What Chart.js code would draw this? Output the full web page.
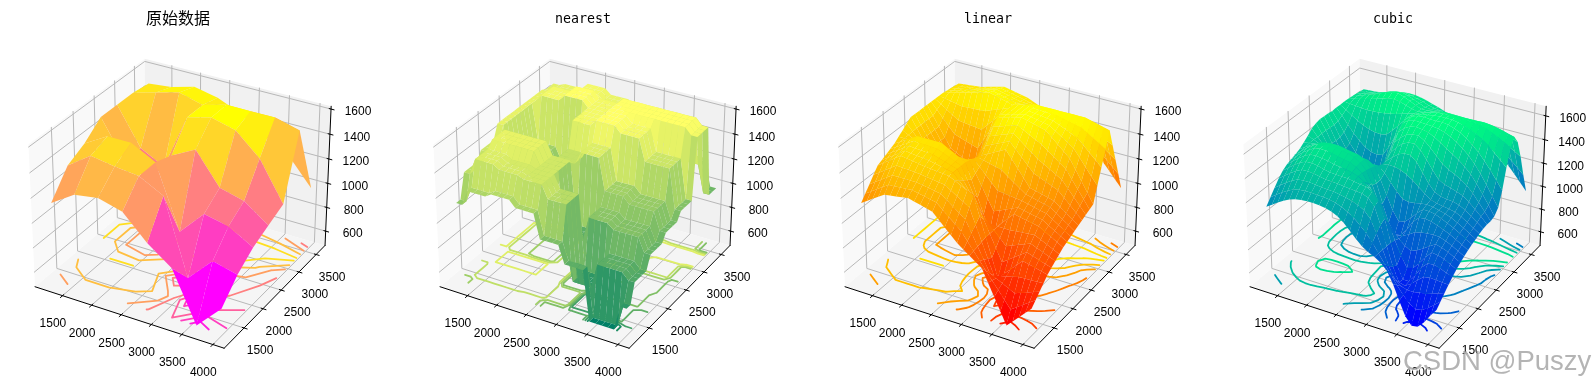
<!DOCTYPE html>
<html>
<head>
<meta charset="utf-8">
<script src="https://cdn.jsdelivr.net/npm/chart.js@4/dist/chart.umd.min.js"></script>
<style>
html,body{margin:0;padding:0;background:#fff;overflow:hidden}
#wrap{position:relative;width:1594px;height:389px;overflow:hidden}
.panel{position:absolute;top:0;width:379px;height:389px}
#mark{position:absolute;left:1403px;top:345px;font:27.5px "Liberation Sans";color:rgba(140,140,140,.65);text-shadow:1px 1px 1px rgba(255,255,255,.9);white-space:nowrap}
</style>
</head>
<body>
<div id="wrap"><div id="mark">CSDN @Puszy</div></div>
<script>
const xTicks = [1500, 2000, 2500, 3000, 3500, 4000];
const yTicks = [1500, 2000, 2500, 3000, 3500];
const zTicks = [600, 800, 1000, 1200, 1400, 1600];
const contourLevels = [600, 750, 900, 1050, 1200, 1350, 1500];

const rawX = [1200, 1600, 2000, 2400, 2800, 3200, 3600, 4000];
const rawY = [1200, 1600, 2000, 2400, 2800, 3200, 3600];
const rawZ = [
  [1130, 1250, 1280, 1230, 1040, 900, 500, 700],
  [1320, 1450, 1420, 1400, 1300, 700, 900, 850],
  [1390, 1500, 1500, 1400, 900, 1100, 1060, 950],
  [1500, 1200, 1100, 1350, 1450, 1200, 1150, 1010],
  [1500, 1200, 1100, 1550, 1600, 1550, 1380, 1070],
  [1500, 1550, 1600, 1550, 1600, 1600, 1600, 1550],
  [1480, 1500, 1550, 1510, 1430, 1300, 1200, 980]
];

const fineX = [1200,1300,1400,1500,1600,1700,1800,1900,2000,2100,2200,2300,2400,2500,2600,2700,2800,2900,3000,3100,3200,3300,3400,3500,3600,3700,3800,3900,4000];
const fineY = [1200,1300,1400,1500,1600,1700,1800,1900,2000,2100,2200,2300,2400,2500,2600,2700,2800,2900,3000,3100,3200,3300,3400,3500,3600];

const n0 = [1130,1130,1250,1250,1250,1250,1280,1280,1280,1280,1230,1230,1230,1230,1040,1040,1040,1040,900,900,900,900,500,500,500,500,500,700,700];
const n1 = [1320,1320,1450,1450,1450,1450,1420,1420,1420,1420,1400,1400,1400,1400,1300,1300,1300,1300,700,700,700,700,900,900,900,900,900,850,850];
const n2 = [1390,1390,1500,1500,1500,1500,1500,1500,1500,1500,1400,1400,1400,1400,900,900,900,900,1100,1100,1100,1100,1060,1060,1060,1060,1060,950,950];
const n3 = [1500,1500,1200,1200,1200,1200,1100,1100,1100,1100,1350,1350,1350,1350,1450,1450,1450,1450,1200,1200,1200,1200,1150,1150,1150,1150,1150,1010,1010];
const n4 = [1500,1500,1200,1200,1200,1200,1100,1100,1100,1100,1550,1550,1550,1550,1600,1600,1600,1600,1550,1550,1550,1550,1380,1380,1380,1380,1380,1070,1070];
const n5 = [1500,1500,1550,1550,1550,1550,1600,1600,1600,1600,1550,1550,1550,1550,1600,1600,1600,1600,1600,1600,1600,1600,1600,1600,1600,1600,1600,1550,1550];
const n6 = [1480,1480,1500,1500,1500,1500,1550,1550,1550,1550,1510,1510,1510,1510,1430,1430,1430,1430,1300,1300,1300,1300,1200,1200,1200,1200,1200,980,980];
const nearestZ = [n0,n0,n1,n1,n1,n1,n2,n2,n2,n2,n3,n3,n3,n3,n4,n4,n4,n4,n5,n5,n5,n5,n6,n6,n6];

const linearZ = [
[1130,1160,1190,1220,1250,1258,1265,1273,1280,1268,1255,1243,1230,1183,1135,1088,1040,1005,970,935,900,800,700,600,500,550,600,650,700],
[1178,1208,1239,1270,1300,1304,1308,1311,1315,1305,1294,1284,1273,1231,1189,1147,1105,1041,978,914,850,788,725,663,600,634,669,703,738],
[1225,1256,1288,1319,1350,1350,1350,1350,1350,1341,1333,1324,1315,1279,1243,1206,1170,1078,985,893,800,775,750,725,700,719,738,756,775],
[1273,1304,1336,1368,1400,1396,1393,1389,1385,1378,1371,1364,1358,1327,1296,1266,1235,1114,993,871,750,763,775,788,800,803,806,809,813],
[1320,1353,1385,1418,1450,1443,1435,1428,1420,1415,1410,1405,1400,1375,1350,1325,1300,1150,1000,850,700,750,800,850,900,888,875,863,850],
[1338,1369,1400,1431,1463,1457,1451,1446,1440,1430,1420,1410,1400,1350,1300,1250,1200,1100,1000,900,800,835,870,905,940,924,908,891,875],
[1355,1385,1415,1445,1475,1471,1468,1464,1460,1445,1430,1415,1400,1325,1250,1175,1100,1050,1000,950,900,920,940,960,980,960,940,920,900],
[1373,1401,1430,1459,1488,1486,1484,1482,1480,1460,1440,1420,1400,1300,1200,1100,1000,1000,1000,1000,1000,1005,1010,1015,1020,996,973,949,925],
[1390,1418,1445,1473,1500,1500,1500,1500,1500,1475,1450,1425,1400,1275,1150,1025,900,950,1000,1050,1100,1090,1080,1070,1060,1033,1005,978,950],
[1418,1419,1421,1423,1425,1419,1413,1406,1400,1397,1394,1391,1388,1300,1213,1125,1038,1059,1081,1103,1125,1114,1104,1093,1083,1053,1024,995,965],
[1445,1421,1398,1374,1350,1338,1325,1313,1300,1319,1338,1356,1375,1325,1275,1225,1175,1169,1163,1156,1150,1139,1128,1116,1105,1074,1043,1011,980],
[1473,1423,1374,1324,1275,1256,1238,1219,1200,1241,1281,1322,1363,1350,1338,1325,1313,1278,1244,1209,1175,1163,1151,1139,1128,1095,1061,1028,995],
[1500,1425,1350,1275,1200,1175,1150,1125,1100,1163,1225,1288,1350,1375,1400,1425,1450,1388,1325,1263,1200,1188,1175,1163,1150,1115,1080,1045,1010],
[1500,1425,1350,1275,1200,1175,1150,1125,1100,1175,1250,1325,1400,1422,1444,1466,1488,1438,1388,1338,1288,1268,1248,1228,1208,1162,1116,1071,1025],
[1500,1425,1350,1275,1200,1175,1150,1125,1100,1188,1275,1363,1450,1469,1488,1506,1525,1488,1450,1413,1375,1348,1320,1293,1265,1209,1153,1096,1040],
[1500,1425,1350,1275,1200,1175,1150,1125,1100,1200,1300,1400,1500,1516,1531,1547,1563,1538,1513,1488,1463,1428,1393,1358,1323,1256,1189,1122,1055],
[1500,1425,1350,1275,1200,1175,1150,1125,1100,1213,1325,1438,1550,1563,1575,1588,1600,1588,1575,1563,1550,1508,1465,1423,1380,1303,1225,1148,1070],
[1500,1447,1394,1341,1288,1272,1256,1241,1225,1306,1388,1469,1550,1563,1575,1588,1600,1591,1581,1572,1563,1531,1499,1467,1435,1374,1313,1251,1190],
[1500,1469,1438,1406,1375,1369,1363,1356,1350,1400,1450,1500,1550,1563,1575,1588,1600,1594,1588,1581,1575,1554,1533,1511,1490,1445,1400,1355,1310],
[1500,1491,1481,1472,1463,1466,1469,1472,1475,1494,1513,1531,1550,1563,1575,1588,1600,1597,1594,1591,1588,1577,1566,1556,1545,1516,1488,1459,1430],
[1500,1513,1525,1538,1550,1563,1575,1588,1600,1588,1575,1563,1550,1563,1575,1588,1600,1600,1600,1600,1600,1600,1600,1600,1600,1588,1575,1563,1550],
[1495,1506,1516,1527,1538,1550,1563,1575,1588,1576,1564,1552,1540,1544,1549,1553,1558,1549,1541,1533,1525,1519,1513,1506,1500,1477,1454,1431,1408],
[1490,1499,1508,1516,1525,1538,1550,1563,1575,1564,1553,1541,1530,1526,1523,1519,1515,1499,1483,1466,1450,1438,1425,1413,1400,1366,1333,1299,1265],
[1485,1492,1499,1506,1513,1525,1538,1550,1563,1552,1541,1531,1520,1508,1496,1484,1473,1448,1424,1399,1375,1356,1338,1319,1300,1256,1211,1167,1123],
[1480,1485,1490,1495,1500,1513,1525,1538,1550,1540,1530,1520,1510,1490,1470,1450,1430,1398,1365,1333,1300,1275,1250,1225,1200,1145,1090,1035,980]
];

const cubicZ = [
[1130,1162,1196,1226,1250,1266,1276,1280,1280,1277,1269,1254,1230,1191,1141,1088,1040,1008,983,952,900,804,679,564,500,508,562,636,700],
[1182,1216,1250,1279,1305,1316,1322,1322,1318,1315,1309,1297,1278,1251,1216,1172,1121,1056,984,907,837,763,696,639,607,618,651,693,739],
[1232,1268,1304,1335,1359,1366,1365,1359,1353,1349,1346,1337,1326,1313,1294,1265,1211,1105,982,861,763,721,707,706,715,726,740,759,778],
[1281,1319,1355,1386,1411,1413,1409,1399,1389,1385,1382,1376,1369,1366,1360,1339,1281,1143,982,825,708,694,727,773,817,826,823,820,816],
[1320,1357,1395,1429,1450,1454,1444,1431,1420,1416,1414,1410,1400,1392,1386,1362,1300,1166,981,806,700,700,766,849,900,905,891,868,850],
[1346,1386,1424,1456,1482,1486,1480,1470,1457,1449,1445,1432,1415,1385,1346,1290,1225,1100,971,860,766,782,838,905,960,953,937,910,881],
[1360,1402,1443,1477,1506,1516,1514,1507,1494,1484,1474,1447,1414,1342,1255,1167,1082,1011,953,909,881,903,933,968,999,985,966,937,906],
[1374,1415,1454,1488,1516,1527,1533,1528,1517,1506,1491,1456,1409,1298,1170,1045,949,932,949,975,1008,1021,1029,1033,1030,1011,988,959,930],
[1390,1421,1452,1481,1500,1510,1513,1510,1500,1491,1481,1455,1400,1286,1131,986,900,907,971,1051,1100,1108,1099,1081,1060,1038,1009,980,950],
[1419,1428,1435,1440,1443,1442,1439,1433,1427,1428,1430,1422,1386,1288,1172,1059,981,992,1039,1094,1141,1141,1130,1110,1085,1060,1032,1000,968],
[1449,1430,1408,1381,1353,1333,1320,1309,1305,1320,1344,1363,1363,1317,1254,1191,1141,1130,1136,1147,1153,1147,1135,1120,1101,1075,1046,1014,982],
[1482,1425,1369,1315,1264,1227,1201,1186,1185,1217,1262,1308,1347,1358,1354,1342,1319,1285,1243,1203,1165,1150,1140,1130,1120,1095,1065,1030,997],
[1500,1427,1344,1264,1200,1153,1116,1096,1100,1142,1212,1290,1350,1393,1431,1452,1450,1408,1334,1257,1200,1177,1168,1165,1150,1122,1086,1047,1010],
[1510,1428,1333,1249,1171,1118,1076,1061,1062,1128,1210,1302,1388,1446,1491,1515,1520,1478,1413,1343,1278,1250,1235,1218,1199,1160,1115,1068,1016],
[1507,1422,1326,1241,1160,1101,1055,1036,1044,1130,1231,1340,1447,1500,1539,1556,1560,1530,1484,1431,1378,1345,1321,1291,1257,1205,1143,1080,1014],
[1505,1422,1330,1247,1168,1108,1063,1044,1057,1157,1272,1394,1509,1553,1581,1590,1583,1572,1547,1515,1479,1447,1412,1370,1321,1257,1184,1107,1027],
[1500,1427,1344,1264,1200,1148,1103,1082,1100,1184,1316,1453,1550,1593,1606,1604,1600,1597,1589,1574,1550,1520,1481,1436,1380,1312,1234,1152,1070],
[1503,1447,1383,1324,1273,1230,1202,1196,1204,1285,1379,1477,1566,1600,1615,1620,1615,1614,1618,1610,1593,1570,1537,1495,1450,1392,1327,1258,1186],
[1501,1471,1437,1406,1378,1357,1345,1341,1353,1400,1454,1512,1565,1590,1606,1611,1620,1625,1627,1624,1615,1602,1583,1559,1529,1490,1445,1398,1349],
[1503,1497,1492,1487,1483,1485,1488,1495,1503,1515,1529,1544,1559,1575,1592,1606,1617,1621,1624,1623,1620,1616,1611,1602,1590,1570,1546,1521,1495],
[1500,1513,1525,1538,1550,1565,1581,1595,1600,1592,1575,1558,1550,1557,1572,1589,1600,1604,1603,1601,1600,1601,1603,1604,1600,1591,1578,1564,1550],
[1496,1513,1531,1549,1566,1586,1605,1619,1626,1608,1587,1563,1544,1545,1553,1561,1569,1567,1562,1556,1550,1549,1549,1547,1543,1532,1516,1500,1481],
[1492,1506,1520,1534,1550,1569,1588,1601,1609,1594,1575,1553,1533,1529,1529,1528,1526,1515,1501,1486,1472,1465,1459,1451,1439,1416,1389,1361,1331],
[1487,1495,1504,1512,1522,1539,1557,1569,1577,1568,1556,1540,1522,1512,1503,1491,1478,1457,1432,1408,1384,1369,1355,1337,1315,1280,1239,1195,1147],
[1480,1484,1488,1493,1500,1513,1529,1544,1550,1547,1538,1525,1510,1494,1476,1454,1430,1400,1366,1332,1300,1276,1256,1232,1200,1153,1098,1038,980]
];

// view of the 3d box (elev 30, azim -60, dist 10)
const U = [0.866, 0.5, 0], V = [-0.25, 0.433, 0.866], W = [0.433, -0.75, 0.5];
const BOX = [1.1428, 1.1428, 0.8571];
const PX = 1897, CX = 182.6, CY = 196.8, TITLE_H = 39.2, CW = 356, CH = 389;
const X_PANE = [1020, 4180], Y_PANE = [990, 3765];

function spring(t) { return [255, 255 * t, 255 * (1 - t)]; }
function summer(t) { return [255 * t, 127.5 + 127.5 * t, 102]; }
function autumn(t) { return [255, 255 * t, 0]; }
function winter(t) { return [0, 255 * t, 255 - 127.5 * t]; }
function rgb(c) { return 'rgb(' + c.map(Math.round).join(',') + ')'; }

// the long dash keeps chart.js off its fast path, which merges points with the same x
function polyDs(pts, color) {
  return {data: pts, showLine: true, fill: 'shape', backgroundColor: color, borderWidth: 0, pointRadius: 0, borderDash: [10000, 0]};
}
function lineDs(pts, color, width) {
  return {data: pts, showLine: true, fill: false, borderColor: color, borderWidth: width, pointRadius: 0, borderDash: [10000, 0], spanGaps: false, borderCapStyle: 'round'};
}

function makePanel(cfg, idx) {
  const zPane = cfg.zPane;
  function project(x, y, z) {
    const d = [((x - X_PANE[0]) / (X_PANE[1] - X_PANE[0]) - 0.5) * BOX[0],
               ((y - Y_PANE[0]) / (Y_PANE[1] - Y_PANE[0]) - 0.5) * BOX[1],
               ((z - zPane[0]) / (zPane[1] - zPane[0]) - 0.5) * BOX[2]];
    const depth = 10 - (W[0] * d[0] + W[1] * d[1] + W[2] * d[2]);
    return {x: (U[0] * d[0] + U[1] * d[1]) / depth, y: (V[0] * d[0] + V[1] * d[1] + V[2] * d[2]) / depth, depth: depth};
  }
  const xA = X_PANE[0], xB = X_PANE[1], yA = Y_PANE[0], yB = Y_PANE[1], zA = zPane[0], zB = zPane[1];
  const under = [];

  // panes
  under.push(polyDs([project(xA, yA, zA), project(xA, yB, zA), project(xA, yB, zB), project(xA, yA, zB)], '#f9f9f9'));
  under.push(polyDs([project(xA, yB, zA), project(xB, yB, zA), project(xB, yB, zB), project(xA, yB, zB)], '#f1f1f1'));
  under.push(polyDs([project(xA, yA, zA), project(xB, yA, zA), project(xB, yB, zA), project(xA, yB, zA)], '#f5f5f5'));

  // grid lines
  const grey = '#b8b8b8';
  xTicks.forEach(function (t) {
    under.push(lineDs([project(t, yA, zA), project(t, yB, zA), project(t, yB, zB)], grey, 1));
  });
  yTicks.forEach(function (t) {
    under.push(lineDs([project(xB, t, zA), project(xA, t, zA), project(xA, t, zB)], grey, 1));
  });
  zTicks.forEach(function (t) {
    under.push(lineDs([project(xA, yA, t), project(xA, yB, t), project(xB, yB, t)], grey, 1));
  });

  // axis lines and tick marks
  under.push(lineDs([project(xA, yA, zA), project(xB, yA, zA)], '#000', 1));
  under.push(lineDs([project(xB, yA, zA), project(xB, yB, zA)], '#000', 1));
  under.push(lineDs([project(xB, yB, zA), project(xB, yB, zB)], '#000', 1));
  xTicks.forEach(function (t) { under.push(lineDs([project(t, yA + 30, zA), project(t, yA - 50, zA)], '#000', 1)); });
  yTicks.forEach(function (t) { under.push(lineDs([project(xB - 30, t, zA), project(xB + 50, t, zA)], '#000', 1)); });
  zTicks.forEach(function (t) { under.push(lineDs([project(xB - 30, yB, t), project(xB + 50, yB, t)], '#000', 1)); });

  const gx = cfg.gx, gy = cfg.gy, gz = cfg.gz;

  // floor contours, one dataset per level, gaps between the pieces
  contourLevels.forEach(function (lev) {
    const pts = [];
    const t = (lev - 450) / (1650 - 450);
    for (let j = 0; j < gy.length - 1; j++) {
      for (let i = 0; i < gx.length - 1; i++) {
        const c = [[gx[i], gy[j], gz[j][i]], [gx[i + 1], gy[j], gz[j][i + 1]], [gx[i + 1], gy[j + 1], gz[j + 1][i + 1]], [gx[i], gy[j + 1], gz[j + 1][i]]];
        const cross = [];
        for (let k = 0; k < 4; k++) {
          const p = c[k], q = c[(k + 1) % 4];
          if ((p[2] < lev) !== (q[2] < lev)) {
            const f = (lev - p[2]) / (q[2] - p[2]);
            cross.push(project(p[0] + f * (q[0] - p[0]), p[1] + f * (q[1] - p[1]), 500));
          }
        }
        for (let k = 0; k + 1 < cross.length; k += 2) {
          pts.push(cross[k], cross[k + 1], {x: NaN, y: NaN});
        }
      }
    }
    under.push(lineDs(pts, rgb(cfg.cmap(t)), 1.8));
  });

  // surface quads, far ones drawn first
  const quads = [];
  for (let j = 0; j < gy.length - 1; j++) {
    for (let i = 0; i < gx.length - 1; i++) {
      const a = project(gx[i], gy[j], gz[j][i]), b = project(gx[i + 1], gy[j], gz[j][i + 1]);
      const c = project(gx[i + 1], gy[j + 1], gz[j + 1][i + 1]), d = project(gx[i], gy[j + 1], gz[j + 1][i]);
      quads.push({pts: [a, b, c, d], depth: (a.depth + b.depth + c.depth + d.depth) / 4,
        z: (gz[j][i] + gz[j][i + 1] + gz[j + 1][i + 1] + gz[j + 1][i]) / 4});
    }
  }
  const zs = quads.map(function (q) { return q.z; });
  const lo = Math.min.apply(null, zs), hi = Math.max.apply(null, zs);
  quads.sort(function (p, q) { return q.depth - p.depth; });
  quads.forEach(function (q) {
    under.push(polyDs(q.pts, rgb(cfg.cmap((q.z - lo) / (hi - lo)))));
  });

  // chart.js paints the first dataset last
  const datasets = under.reverse();

  const tickText = {
    id: 'tickText',
    afterDraw: function (chart) {
      const ctx = chart.ctx, sx = chart.scales.x, sy = chart.scales.y;
      ctx.save();
      ctx.fillStyle = '#000';
      ctx.font = '12px "Liberation Sans"';
      ctx.textAlign = 'center';
      ctx.textBaseline = 'middle';
      function put(p, label, dx, dy) {
        ctx.fillText(label, sx.getPixelForValue(p.x) + dx, sy.getPixelForValue(p.y) + dy);
      }
      xTicks.forEach(function (t) { put(project(t, yA, zA), String(t), -9.6, 28.5); });
      yTicks.forEach(function (t) { put(project(xB, t, zA), String(t), 16, 23); });
      zTicks.forEach(function (t) { put(project(xB, yB, t), String(t), 27, 3); });
      ctx.restore();
    }
  };

  const holder = document.createElement('div');
  holder.className = 'panel';
  holder.style.left = (idx * 404.9) + 'px';
  const canvas = document.createElement('canvas');
  canvas.width = 379;
  canvas.height = 389;
  holder.appendChild(canvas);
  document.getElementById('wrap').insertBefore(holder, document.getElementById('mark'));

  new Chart(canvas.getContext('2d'), {
    type: 'scatter',
    data: {datasets: datasets},
    plugins: [tickText],
    options: {
      responsive: false,
      animation: false,
      events: [],
      layout: {padding: {right: 379 - CW}},
      plugins: {
        legend: {display: false},
        tooltip: {enabled: false},
        title: {
          display: true,
          text: cfg.title,
          fullSize: false,
          color: '#000',
          padding: {top: cfg.titleTop, bottom: 20 - cfg.titleTop},
          font: {family: cfg.titleFont, size: cfg.titleSize, weight: 'normal', lineHeight: 19.2 / cfg.titleSize}
        }
      },
      scales: {
        x: {type: 'linear', display: false, min: -CX / PX, max: (CW - CX) / PX},
        y: {type: 'linear', display: false, min: (CY - CH) / PX, max: (CY - TITLE_H) / PX}
      }
    }
  });
}

const monoTitle = '"DejaVu Sans Mono"';
const zPlain = [478, 1622];
makePanel({title: '原始数据', titleFont: '"Noto Sans CJK SC"', titleSize: 16, titleTop: 8, gx: rawX, gy: rawY, gz: rawZ, cmap: spring, zPane: zPlain}, 0);
makePanel({title: 'nearest', titleFont: monoTitle, titleSize: 13.3, titleTop: 10, gx: fineX, gy: fineY, gz: nearestZ, cmap: summer, zPane: zPlain}, 1);
makePanel({title: 'linear', titleFont: monoTitle, titleSize: 13.3, titleTop: 10, gx: fineX, gy: fineY, gz: linearZ, cmap: autumn, zPane: zPlain}, 2);
makePanel({title: 'cubic', titleFont: monoTitle, titleSize: 13.3, titleTop: 10, gx: fineX, gy: fineY, gz: cubicZ, cmap: winter, zPane: [478, 1680]}, 3);
</script>
</body>
</html>
